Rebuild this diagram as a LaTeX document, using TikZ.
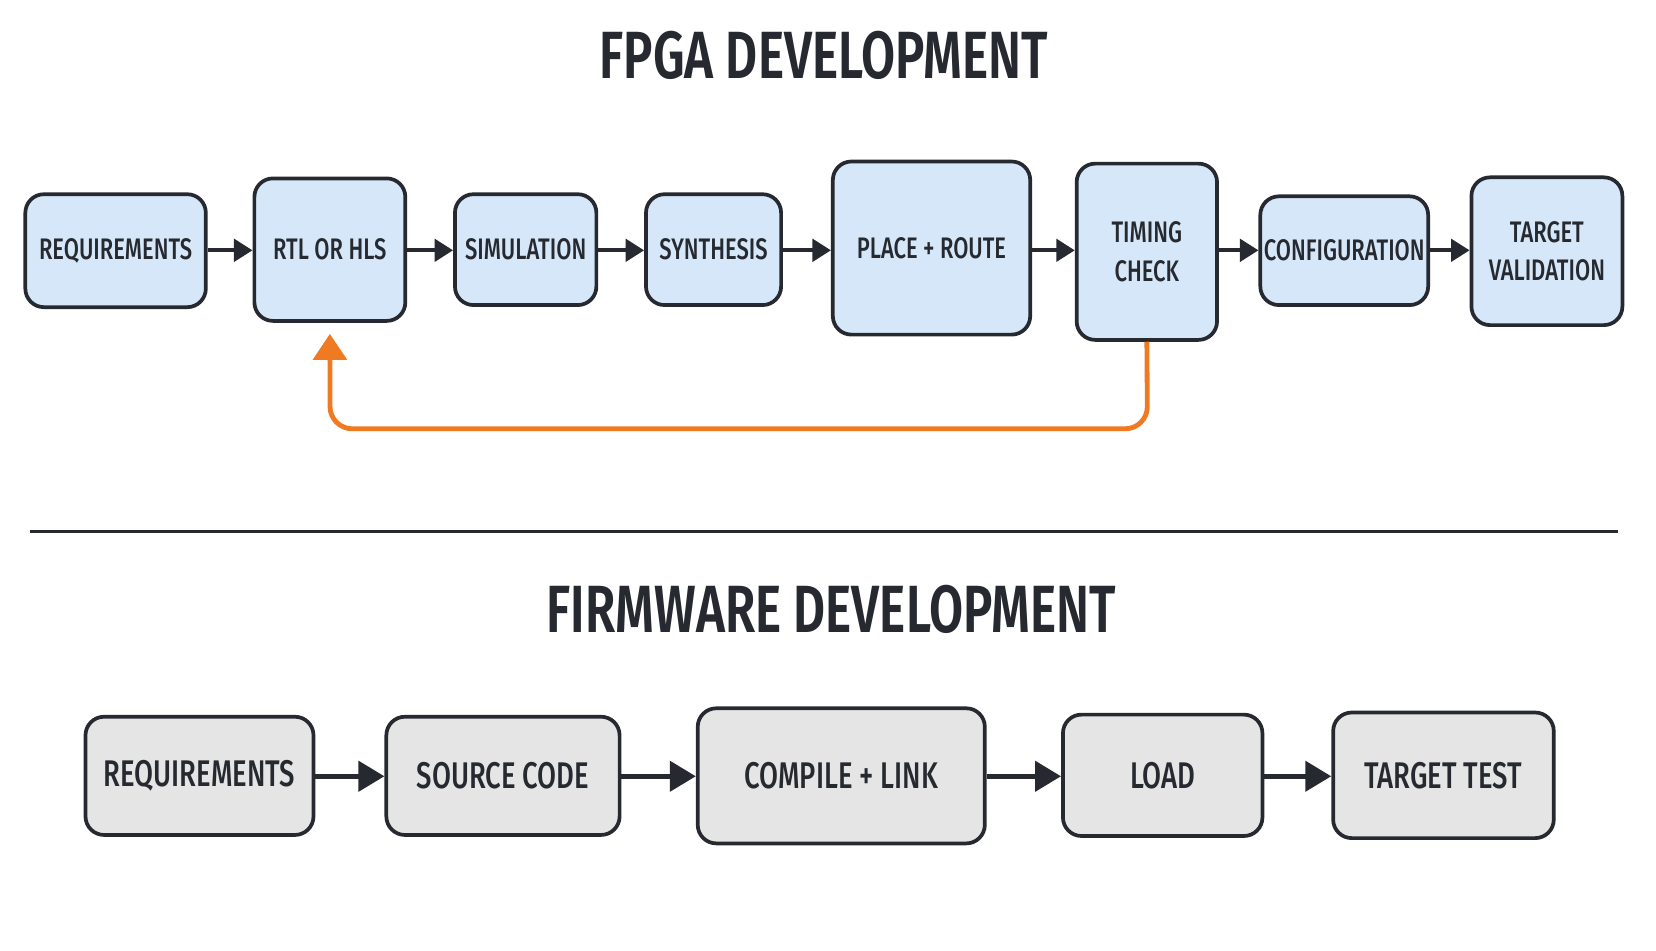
\documentclass[tikz,border=0pt]{standalone}
\usepackage{fontspec}
\setmainfont{Fira Sans}[FakeStretch=0.74,UprightFont=* Medium,BoldFont=* SemiBold]
\usetikzlibrary{arrows.meta}
\definecolor{ink}{HTML}{262A30}
\definecolor{bluef}{HTML}{D5E7F8}
\definecolor{grayf}{HTML}{E5E5E5}
\definecolor{orng}{HTML}{F07A22}
\tikzset{
 box/.style={draw=ink,line width=1pt,rounded corners=5pt,text=ink,align=center,font=\fontsize{8}{10.5}\selectfont,inner sep=0pt},
 fb/.style={box,fill=bluef},
 wb/.style={box,fill=grayf,font=\fontsize{10}{12}\selectfont},
 arr/.style={draw=ink,line width=1.1pt,-{Triangle[length=5pt,width=6pt]}},
 ttl/.style={text=ink,font=\bfseries\fontsize{18}{22}\selectfont}
}
\newcommand{\bx}[7]{\node[#1,minimum width=#4*0.01cm,minimum height=#5*0.01cm] (#2) at (#6*0.01,-#7*0.01) {#3};}
\begin{document}
\begin{tikzpicture}
\useasboundingbox[fill=white] (0,0) rectangle (15.68,-9.0);
\node[ttl] (t1) at (7.80,-0.52) {FPGA DEVELOPMENT};
\node[ttl] (t2) at (7.87,-5.77) {FIRMWARE DEVELOPMENT};
\bx{fb}{a1}{REQUIREMENTS}{171}{107}{109.5}{237.5}
\bx{fb}{a2}{RTL OR HLS}{143}{135}{312.5}{236.5}
\bx{fb}{a3}{SIMULATION}{134}{105}{498}{236.5}
\bx{fb}{a4}{SYNTHESIS}{128}{105}{676}{236.5}
\bx{fb}{a5}{PLACE + ROUTE}{187}{164}{882.5}{235}
\bx{fb}{a6}{TIMING\\CHECK}{133}{167}{1086.5}{238.5}
\bx{fb}{a7}{CONFIGURATION}{159}{103}{1273.5}{237.5}
\bx{fb}{a8}{TARGET\\VALIDATION}{143}{140}{1465.5}{238}
\foreach \i/\j in {a1/a2,a2/a3,a3/a4,a4/a5,a5/a6,a6/a7,a7/a8}
  \draw[arr] (\i.east |- 0,-2.37) -- (\j.west |- 0,-2.37);
\coordinate (c1) at (10.865,-4.06);
\coordinate (c2) at (3.125,-4.06);
\draw[orng,line width=1.3pt,rounded corners=6pt,-{Triangle[length=7pt,width=9pt]}] (a6.south) -- (c1) -- (c2) -- ([yshift=-3pt]a2.south);
\coordinate (l1) at (0.28,-5.03);
\coordinate (l2) at (15.32,-5.03);
\draw[ink,line width=0.8pt] (l1) -- (l2);
\bx{wb}{b1}{REQUIREMENTS}{216}{112}{189}{735}
\bx{wb}{b2}{SOURCE CODE}{221}{112}{476.5}{735}
\bx{wb}{b3}{COMPILE + LINK}{272}{128}{797}{735}
\bx{wb}{b4}{LOAD}{189}{115}{1101.5}{734.5}
\bx{wb}{b5}{TARGET TEST}{209}{119}{1367.5}{734.5}
\foreach \i/\j in {b1/b2,b2/b3,b3/b4,b4/b5}
  \draw[arr,line width=1.4pt,-{Triangle[length=7pt,width=8pt]}] (\i.east |- 0,-7.35) -- (\j.west |- 0,-7.35);
\end{tikzpicture}
\end{document}
